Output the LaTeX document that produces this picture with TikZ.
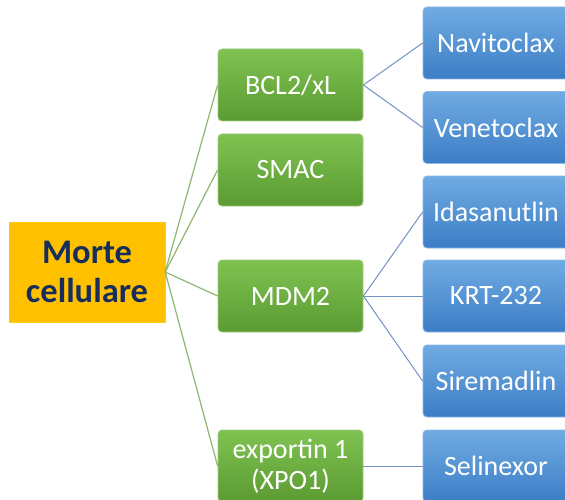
\documentclass[tikz,border=0pt]{standalone}
\usepackage{fontspec}
\setmainfont{Carlito}
\definecolor{rootfill}{HTML}{FFC000}
\definecolor{roottext}{HTML}{172D5C}
\definecolor{gtop}{HTML}{80C251}
\definecolor{gbot}{HTML}{5B9B33}
\definecolor{gedge}{HTML}{9CCB7C}
\definecolor{btop}{HTML}{70ABE2}
\definecolor{bbot}{HTML}{3C7DC6}
\definecolor{bedge}{HTML}{8DB8E6}
\definecolor{gline}{HTML}{8FB56E}
\definecolor{bline}{HTML}{7393C4}
\tikzset{
  rootbox/.style={fill=rootfill, draw=rootfill!80!yellow, minimum width=156pt, minimum height=100pt, inner sep=0pt,
    text=roottext, font=\fontsize{34.5}{39}\selectfont\bfseries, align=center},
  greenbox/.style={rounded corners=4pt, top color=gtop, bottom color=gbot, draw=gedge, line width=0.8pt,
    minimum width=145pt, minimum height=72pt, inner sep=0pt, text=white, font=\fontsize{28}{31}\selectfont, align=center},
  bluebox/.style={rounded corners=4pt, top color=btop, bottom color=bbot, draw=bedge, line width=0.8pt,
    minimum width=146pt, minimum height=72pt, inner sep=0pt, text=white, font=\fontsize{28}{31}\selectfont, align=center},
  gconn/.style={draw=gline, line width=1.2pt},
  bconn/.style={draw=bline, line width=1pt},
}
\begin{document}
\begin{tikzpicture}[x=1pt,y=-1pt]
\useasboundingbox (0,0) rectangle (565,500);
\clip (0,0) rectangle (565,500);
\node[rootbox] (root) at (87,272) {Morte\\cellulare};
\node[greenbox] (bcl) at (290.5,85) {BCL2/xL};
\node[greenbox] (smac) at (290.5,170) {SMAC};
\node[greenbox] (mdm) at (290.5,296) {MDM2};
\node[greenbox] (xpo) at (290.5,466) {exportin 1\\(XPO1)};
\node[bluebox] (navi) at (496,43) {Navitoclax};
\node[bluebox] (vene) at (496,127.5) {Venetoclax};
\node[bluebox] (idas) at (496,212) {Idasanutlin};
\node[bluebox] (krt) at (496,296) {KRT-232};
\node[bluebox] (sire) at (496,381) {Siremadlin};
\node[bluebox] (seli) at (496,466) {Selinexor};
\draw[gconn] (root.east) -- (bcl.west);
\draw[gconn] (root.east) -- (smac.west);
\draw[gconn] (root.east) -- (mdm.west);
\draw[gconn] (root.east) -- (xpo.west);
\draw[bconn] (bcl.east) -- (navi.west);
\draw[bconn] (bcl.east) -- (vene.west);
\draw[bconn] (mdm.east) -- (idas.west);
\draw[bconn] (mdm.east) -- (krt.west);
\draw[bconn] (mdm.east) -- (sire.west);
\draw[bconn] (xpo.east) -- (seli.west);
\end{tikzpicture}
\end{document}
